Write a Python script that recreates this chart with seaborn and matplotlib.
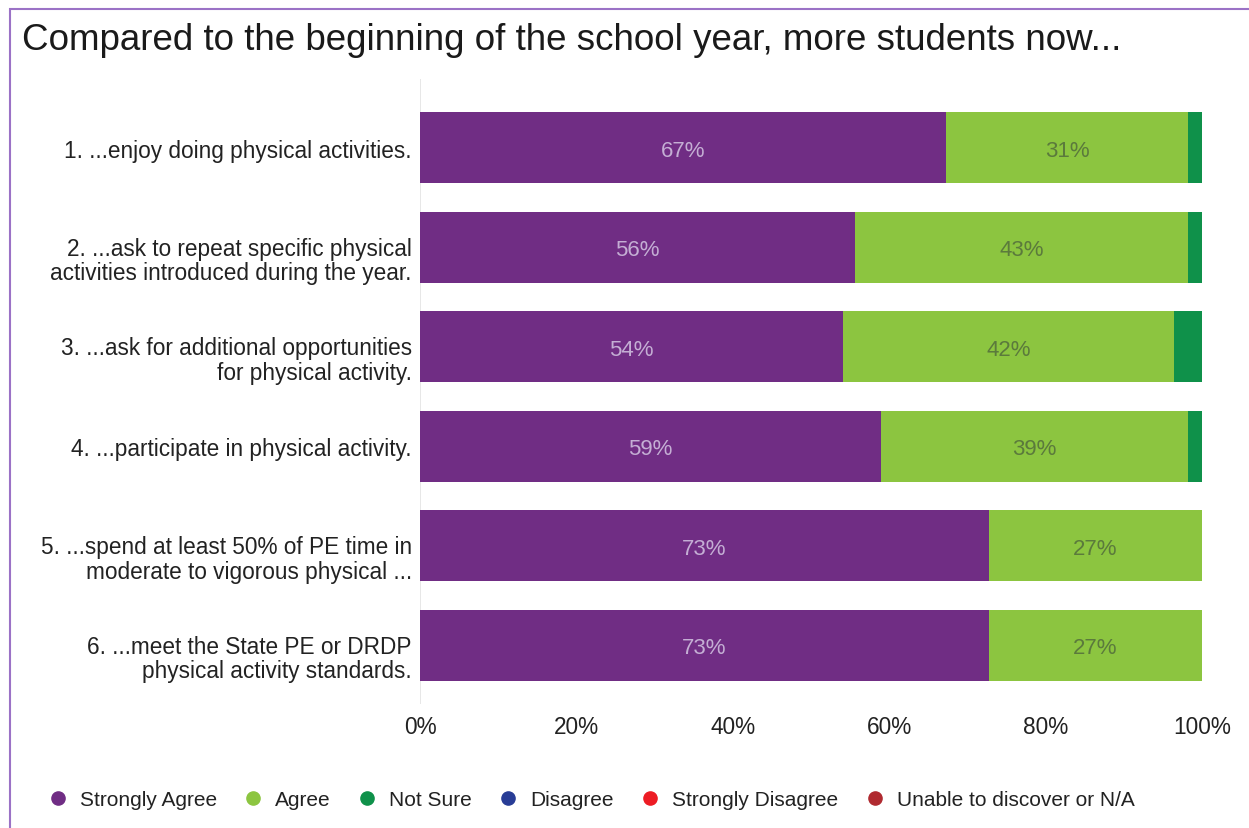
import numpy as np
import pandas as pd
import matplotlib
matplotlib.use("Agg")
import matplotlib.pyplot as plt
import matplotlib.transforms as mtransforms
import seaborn as sns
from matplotlib.patches import Rectangle
from matplotlib.lines import Line2D

categories = [
    "1. ...enjoy doing physical activities.",
    "2. ...ask to repeat specific physical\nactivities introduced during the year.",
    "3. ...ask for additional opportunities\nfor physical activity.",
    "4. ...participate in physical activity.",
    "5. ...spend at least 50% of PE time in\nmoderate to vigorous physical ...",
    "6. ...meet the State PE or DRDP\nphysical activity standards.",
]
strongly_agree = [67.3, 55.6, 54.1, 59.0, 72.7, 72.7]
agree = [30.9, 42.6, 42.3, 39.2, 27.3, 27.3]
not_sure = [1.8, 1.8, 3.6, 1.8, 0.0, 0.0]
disagree = [0.0] * 6
strongly_disagree = [0.0] * 6
unable = [0.0] * 6

series_names = ["Strongly Agree", "Agree", "Not Sure", "Disagree",
                "Strongly Disagree", "Unable to discover or N/A"]
series_colors = ["#702d84", "#8cc540", "#0f914a", "#283d96", "#ed1c24", "#b02a30"]
xtick_vals = [0, 20, 40, 60, 80, 100]
xtick_labels = ["0%", "20%", "40%", "60%", "80%", "100%"]

sns.set_theme(style="white")
plt.rcParams["font.family"] = ["Liberation Sans", "DejaVu Sans"]

df = pd.DataFrame({
    "cat": categories,
    "sa": strongly_agree,
    "a": agree,
    "ns": not_sure,
    "d": disagree,
    "sd": strongly_disagree,
    "u": unable,
})
cols = ["sa", "a", "ns", "d", "sd", "u"]
cum = df[cols].cumsum(axis=1)

fig = plt.figure(figsize=(12.49, 8.29), dpi=100)
ax = fig.add_axes([420 / 1249, 1 - 705 / 829, 782 / 1249, (705 - 80) / 829])

# draw cumulative layers from the outermost inward
for i in range(len(cols) - 1, -1, -1):
    tmp = pd.DataFrame({"cat": df["cat"], "val": cum[cols[i]]})
    sns.barplot(data=tmp, x="val", y="cat", orient="h", color=series_colors[i],
                saturation=1, width=0.71, ax=ax, zorder=2, linewidth=0)

# segment labels
for j in range(len(categories)):
    left = 0.0
    for col, tc in [("sa", "#c4aed4"), ("a", "#5b7a3c")]:
        v = df.loc[j, col]
        if v >= 5:
            ax.text(left + v / 2, j, f"{round(v):d}%", ha="center", va="center_baseline",
                    color=tc, fontsize=16, zorder=5)
        left += v

ax.axvline(0, color="#e3e3e3", lw=1.2, zorder=1)
ax.set_xlim(0, 100)
ax.set_ylim(5.59, -0.69)
ax.set_xticks(xtick_vals)
ax.set_xticklabels(xtick_labels, fontsize=16.3, color="#222222")
ax.tick_params(axis="x", length=0, pad=8)
ax.tick_params(axis="y", length=0, pad=6, labelsize=16.3, labelcolor="#222222")
ax.set_xlabel("")
ax.set_ylabel("")
for s in ax.spines.values():
    s.set_visible(False)

# two-line labels sit with their first line near the bar centre
for lab in ax.get_yticklabels():
    if "\n" in lab.get_text():
        lab.set_transform(lab.get_transform() +
                          mtransforms.ScaledTranslation(0, -10 / 100, fig.dpi_scale_trans))
        lab.set_linespacing(1.08)

fig.text(22 / 1249, 1 - 40 / 829, "Compared to the beginning of the school year, more students now...",
         fontsize=26.5, color="#1a1a1a", va="center", ha="left")

handles = [Line2D([0], [0], marker="o", linestyle="", markersize=9.5,
                  markerfacecolor=c, markeredgecolor=c) for c in series_colors]
fig.legend(handles, series_names, loc="center left",
           bbox_to_anchor=(47.5 / 1249, 1 - 801 / 829), ncol=6, frameon=False,
           fontsize=15, handletextpad=0.55, columnspacing=1.25, handlelength=1.0,
           borderpad=0, borderaxespad=0, labelcolor="#222222")

fig.patches.append(Rectangle((10 / 1249, -0.1), 2.0, 1.1 - 10 / 829,
                             transform=fig.transFigure, fill=False,
                             edgecolor="#9b72c6", linewidth=1.5))

fig.savefig("out.png", dpi=100)
